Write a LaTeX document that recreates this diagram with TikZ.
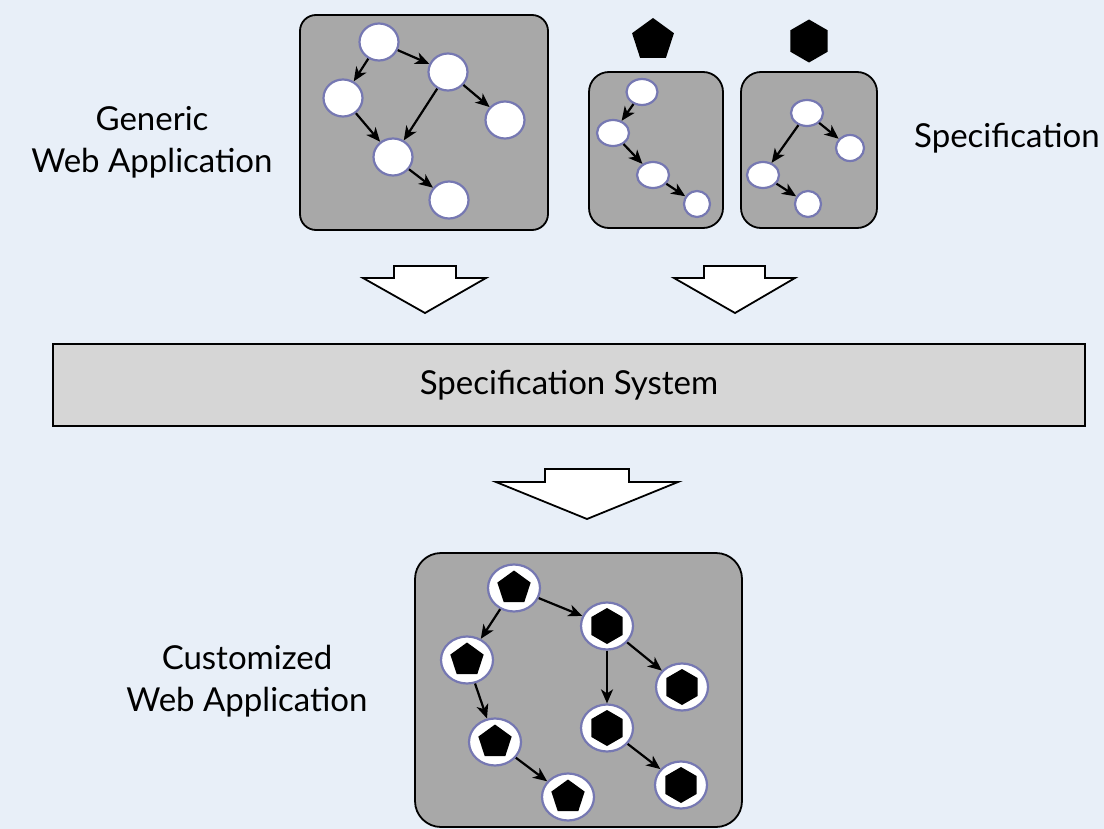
\documentclass[tikz,border=0pt]{standalone}
\usepackage{fontspec}
\setmainfont{Lato}
\usetikzlibrary{positioning,shapes.geometric,arrows.meta}
\usepackage{xcolor}

\definecolor{bgblue}{RGB}{232,239,248}
\definecolor{boxgray}{RGB}{168,168,168}
\definecolor{sysgray}{RGB}{214,214,214}
\definecolor{ringblue}{RGB}{118,120,178}

\tikzset{
  panel/.style={draw=black, fill=boxgray, line width=1.8bp},
  state/.style={ellipse, draw=ringblue, fill=white, line width=2.2bp, inner sep=0pt},
  bigstate/.style={state, minimum width=52bp, minimum height=47bp},
  pent/.style={regular polygon, regular polygon sides=5, fill=black, inner sep=0pt, minimum size=35bp},
  hexa/.style={regular polygon, regular polygon sides=6, regular polygon rotate=30, fill=black, inner sep=0pt, minimum size=36bp},
  flow/.style={-{Stealth[length=14bp,width=12bp,inset=4bp]}, line width=2.2bp},
  bigarrow/.style={draw=black, fill=white, line width=1.8bp},
  caption/.style={align=center, font=\fontsize{33bp}{42bp}\selectfont, inner sep=0pt},
}

\begin{document}
\begin{tikzpicture}[x=1bp,y=-1bp]

    \fill[bgblue] (0,0) rectangle (1104,829);
    \useasboundingbox (0,0) rectangle (1104,829);

    \node[caption] (GeLab) at (152,142) {Generic\\Web Application};
    \node[caption, anchor=west] (SpLab) at (914,138) {Specification};
    \node[caption] (CuLab) at (247,681) {Customized\\Web Application};

    \draw[panel, rounded corners=16bp] (300,15) rectangle (548,230);
    \draw[panel, rounded corners=20bp] (589,72) rectangle (723,228);
    \draw[panel, rounded corners=20bp] (741,72) rectangle (877,228);
    \draw[panel, rounded corners=26bp] (415,553) rectangle (742,827);

    \node[state, minimum width=39bp, minimum height=37bp] (GeA) at (379,42) {};
    \node[state, minimum width=39bp, minimum height=37bp] (GeB) at (448,72) {};
    \node[state, minimum width=39bp, minimum height=37bp] (GeC) at (343,98) {};
    \node[state, minimum width=39bp, minimum height=37bp] (GeD) at (505,120) {};
    \node[state, minimum width=39bp, minimum height=37bp] (GeE) at (393,157) {};
    \node[state, minimum width=39bp, minimum height=37bp] (GeF) at (449,200) {};

    \node[pent, minimum size=44bp] (PeMark) at (653,40) {};
    \node[hexa, minimum size=43bp] (HeMark) at (809,41) {};

    \node[state, minimum width=31bp, minimum height=26bp] (PeA) at (642,92) {};
    \node[state, minimum width=32bp, minimum height=26bp] (PeB) at (613,133) {};
    \node[state, minimum width=32bp, minimum height=26bp] (PeC) at (653,175) {};
    \node[state, minimum width=26bp, minimum height=26bp] (PeD) at (697,204) {};

    \node[state, minimum width=32bp, minimum height=26bp] (HeA) at (807,113) {};
    \node[state, minimum width=28bp, minimum height=26bp] (HeB) at (850,148) {};
    \node[state, minimum width=32bp, minimum height=26bp] (HeC) at (763,175) {};
    \node[state, minimum width=26bp, minimum height=26bp] (HeD) at (808,204) {};

    \draw[bigarrow] (394,266) -- (456,266) -- (456,278) -- (486,278) -- (425,313) -- (363,278) -- (394,278) -- cycle;
    \draw[bigarrow] (704,266) -- (765,266) -- (765,278) -- (795,278) -- (735,313) -- (674,278) -- (704,278) -- cycle;

    \node[draw=black, fill=sysgray, line width=1.8bp, minimum width=1032bp, minimum height=82bp,
          font=\fontsize{33bp}{42bp}\selectfont] (Sys) at (569,385) {Specification System};

    \draw[bigarrow] (545,469) -- (629,469) -- (629,482) -- (678,482) -- (587,519) -- (496,482) -- (545,482) -- cycle;

    \node[bigstate] (CuA) at (514,588) {};
    \node[bigstate] (CuB) at (607,626) {};
    \node[bigstate] (CuC) at (467,660) {};
    \node[bigstate] (CuD) at (682,687) {};
    \node[bigstate] (CuE) at (607,728) {};
    \node[bigstate] (CuF) at (495,742) {};
    \node[bigstate] (CuG) at (681,785) {};
    \node[bigstate] (CuH) at (568,797) {};

    \node[pent] (CuAin) at (CuA) {};
    \node[hexa] (CuBin) at (CuB) {};
    \node[pent] (CuCin) at (CuC) {};
    \node[hexa] (CuDin) at (CuD) {};
    \node[hexa] (CuEin) at (CuE) {};
    \node[pent] (CuFin) at (CuF) {};
    \node[hexa] (CuGin) at (CuG) {};
    \node[pent] (CuHin) at (CuH) {};

    \draw[flow] (GeA) to (GeC);
    \draw[flow] (GeA) to (GeB);
    \draw[flow] (GeB) to (GeE);
    \draw[flow] (GeC) to (GeE);
    \draw[flow] (GeB) to (GeD);
    \draw[flow] (GeE) to (GeF);

    \draw[flow] (PeA) to (PeB);
    \draw[flow] (PeB) to (PeC);
    \draw[flow] (PeC) to (PeD);

    \draw[flow] (HeA) to (HeB);
    \draw[flow] (HeA) to (HeC);
    \draw[flow] (HeC) to (HeD);

    \draw[flow] (CuA) to (CuC);
    \draw[flow] (CuA) to (CuB);
    \draw[flow] (CuB) to (CuD);
    \draw[flow] (CuB) to (CuE);
    \draw[flow] (CuC) to (CuF);
    \draw[flow] (CuF) to (CuH);
    \draw[flow] (CuE) to (CuG);

\end{tikzpicture}
\end{document}
